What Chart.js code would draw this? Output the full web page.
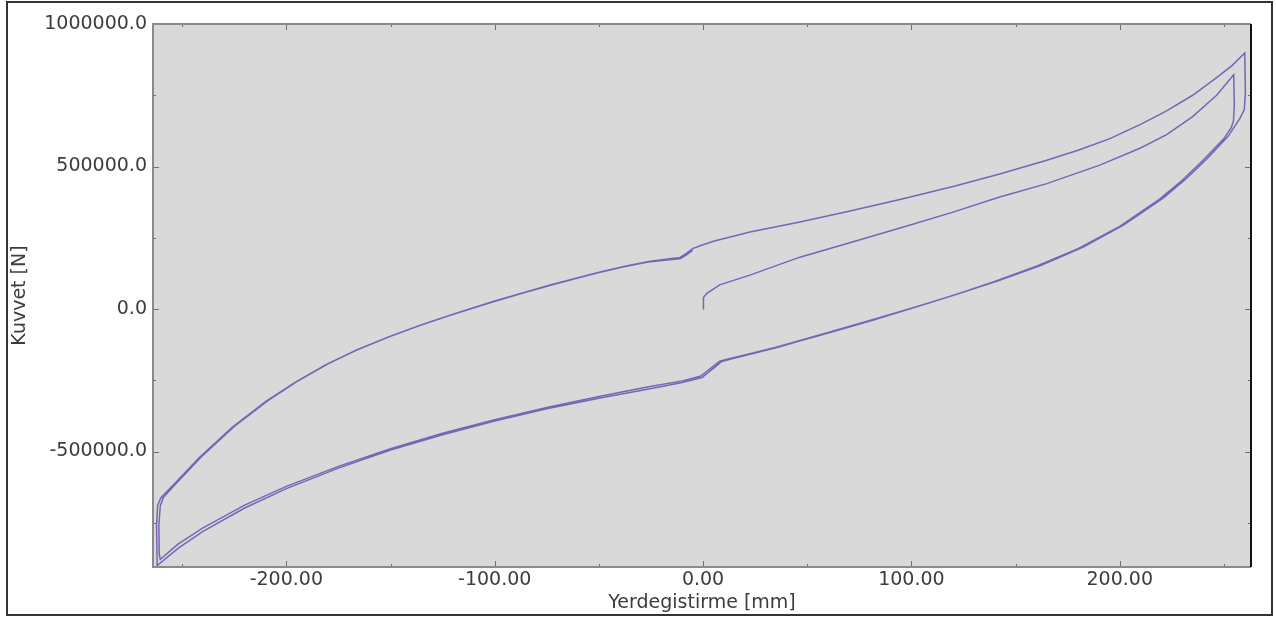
<!DOCTYPE html>
<html lang="tr">
<head>
<meta charset="UTF-8">
<title>Kuvvet - Yerdegistirme</title>
<script src="https://cdn.jsdelivr.net/npm/chart.js"></script>
<style>
  html, body { margin: 0; padding: 0; background: #fff; }
  #wrap { position: relative; width: 1276px; height: 619px; }
  #frame { position: absolute; left: 6px; top: 1px; width: 1267px; height: 615px; border: 2px solid #333; box-sizing: border-box; pointer-events: none; }
</style>
</head>
<body>
<div id="wrap">
  <canvas id="chart"></canvas>
  <div id="frame"></div>
</div>

<script>
// eksen ayarlari
const xMin = -264, xMax = 263;
const yMin = -905000, yMax = 1000000;
const xTicks = [-200, -100, 0, 100, 200];
const xMinorTicks = [-250, -150, -50, 50, 150, 250];
const yTicks = [-500000, 0, 500000, 1000000];
const yMinorTicks = [-750000, -250000, 250000, 750000];

// ilk yukleme
const loadX = [0, 0.2, 2, 8, 22.5, 46.5, 70, 95, 120, 142.4, 165, 190.4, 210, 222.5, 235, 246.5, 254.7];
const loadY = [0, 40000, 56000, 85000, 119000, 182000, 232000, 285000, 340000, 393000, 440000, 505000, 565000, 612000, 675000, 750000, 822000];

// 1. cevrim - bosaltma (sag -> sol)
const down1X = [255, 254.6, 253.5, 250, 240, 230, 219, 200, 180, 160, 140, 120, 100, 80, 60, 46.5, 35, 22.5, 12, 8, 5, 2, -1.4, -10, -25.4, -49.4, -75, -100, -125, -150, -175, -200, -220, -240, -252, -260.5];
const down1Y = [720000, 660000, 636000, 598000, 522000, 452000, 385000, 290000, 212000, 150000, 97000, 48000, 3000, -40000, -82000, -110000, -134000, -157000, -175000, -183000, -200000, -218000, -236000, -252000, -272000, -306000, -345000, -388000, -436000, -490000, -552000, -622000, -688000, -768000, -825000, -878000];

// 1. cevrim - yukleme (sol -> sag)
const up1X = [-261, -261.2, -260.5, -259, -252, -241, -225, -209, -195, -180, -165, -150, -135, -120, -100, -85, -73.4, -61, -49.4, -37, -25.4, -15, -11, -8, -5, -1.4, 5, 22.5, 46.5, 70, 95, 120, 142.4, 165, 180, 195, 210, 222.5, 235, 246.5, 254, 260];
const up1Y = [-860000, -760000, -690000, -660000, -605000, -520000, -412000, -322000, -255000, -192000, -140000, -95000, -55000, -18000, 28000, 60000, 84000, 108000, 130000, 151000, 168000, 177000, 181000, 195000, 212000, 222000, 238000, 270000, 305000, 343000, 385000, 430000, 474000, 522000, 557000, 597000, 648000, 695000, 750000, 812000, 855000, 898000];

// 2. cevrim - bosaltma
const down2X = [260.3, 259.8, 257.6, 252, 242, 232, 221, 202, 182, 162, 142, 121, 101, 81, 61, 47.5, 36, 23.5, 13, 9, 6, 3, -0.5, -10, -25.4, -49.4, -75, -100, -125, -150, -175, -200, -220, -240, -252, -262];
const down2Y = [760000, 700000, 668000, 606000, 528000, 458000, 390000, 295000, 216000, 153000, 100000, 50000, 4000, -40000, -82000, -110000, -134000, -157000, -176000, -184000, -202000, -220000, -240000, -258000, -280000, -312000, -350000, -393000, -441000, -495000, -558000, -630000, -698000, -780000, -840000, -900000];

// 2. cevrim - yukleme (yarim)
const up2X = [-262.3, -261.8, -260.3, -253, -242, -226, -210, -196, -181, -166, -151, -136, -121, -101, -86, -74.4, -62, -50.4, -38, -26.4, -16, -11, -8, -5];
const up2Y = [-760000, -690000, -663000, -608000, -523000, -415000, -325000, -258000, -195000, -143000, -98000, -58000, -21000, 25000, 57000, 81000, 105000, 127000, 148000, 165000, 173000, 176000, 190000, 206000];

const branches = [[loadX, loadY], [down1X, down1Y], [up1X, up1Y], [down2X, down2Y], [up2X, up2Y]];
const points = [];
branches.forEach(([xs, ys]) => xs.forEach((x, i) => points.push({ x: x, y: ys[i] })));

const textColor = '#3c3c3c';
const font = { family: 'DejaVu Sans', size: 19 };

// gri cizim alani, kenarlik ve ic tikler
const plotBox = {
  id: 'plotBox',
  beforeDraw(chart) {
    const { ctx, chartArea: a } = chart;
    ctx.save();
    ctx.fillStyle = '#d9d9d9';
    ctx.fillRect(a.left, a.top, a.width, a.height);
    ctx.restore();
  },
  afterDatasetsDraw(chart) {
    const { ctx, chartArea: a, scales } = chart;
    ctx.save();
    ctx.strokeStyle = '#707070';
    ctx.lineWidth = 1;
    ctx.beginPath();
    const xt = (list, len) => list.forEach(v => {
      const p = Math.round(scales.x.getPixelForValue(v)) + 0.5;
      ctx.moveTo(p, a.top); ctx.lineTo(p, a.top + len);
      ctx.moveTo(p, a.bottom); ctx.lineTo(p, a.bottom - len);
    });
    const yt = (list, len) => list.forEach(v => {
      const p = Math.round(scales.y.getPixelForValue(v)) + 0.5;
      ctx.moveTo(a.left, p); ctx.lineTo(a.left + len, p);
      ctx.moveTo(a.right, p); ctx.lineTo(a.right - len, p);
    });
    xt(xTicks, 6); xt(xMinorTicks, 3);
    yt(yTicks, 6); yt(yMinorTicks, 3);
    ctx.stroke();

    ctx.lineWidth = 2;
    ctx.strokeStyle = '#8a8a8a';
    ctx.beginPath();
    ctx.moveTo(a.right, a.top); ctx.lineTo(a.left, a.top);
    ctx.lineTo(a.left, a.bottom); ctx.lineTo(a.right, a.bottom);
    ctx.stroke();
    ctx.strokeStyle = '#111';
    ctx.beginPath();
    ctx.moveTo(a.right, a.top); ctx.lineTo(a.right, a.bottom);
    ctx.stroke();
    ctx.restore();
  }
};

new Chart(document.getElementById('chart'), {
  type: 'scatter',
  data: {
    datasets: [{
      data: points,
      showLine: true,
      borderColor: 'rgb(122, 100, 180)',
      borderWidth: 1.5,
      pointRadius: 0,
      tension: 0
    }]
  },
  options: {
    responsive: true,
    maintainAspectRatio: false,
    animation: false,
    layout: { padding: { top: 24, right: 25, left: 0, bottom: 0 } },
    plugins: { legend: { display: false }, tooltip: { enabled: false } },
    scales: {
      x: {
        type: 'linear',
        min: xMin, max: xMax,
        grid: { display: false, drawTicks: false },
        border: { display: false },
        afterBuildTicks: s => { s.ticks = xTicks.map(v => ({ value: v })); },
        afterFit: s => { s.height = 52; },
        ticks: { color: textColor, font: font, padding: 2, maxRotation: 0, callback: v => Number(v).toFixed(2) },
        title: { display: true, text: 'Yerdegistirme [mm]', color: textColor, font: font, padding: { top: 0, bottom: 5 } }
      },
      y: {
        type: 'linear',
        min: yMin, max: yMax,
        grid: { display: false, drawTicks: false },
        border: { display: false },
        afterBuildTicks: s => { s.ticks = yTicks.map(v => ({ value: v })); },
        afterFit: s => { s.width = 153; },
        ticks: { color: textColor, font: font, padding: 6, callback: v => Number(v).toFixed(1) },
        title: { display: true, text: 'Kuvvet [N]', color: textColor, font: font, padding: { top: 9, bottom: 0 } }
      }
    }
  },
  plugins: [plotBox]
});
</script>
</body>
</html>
